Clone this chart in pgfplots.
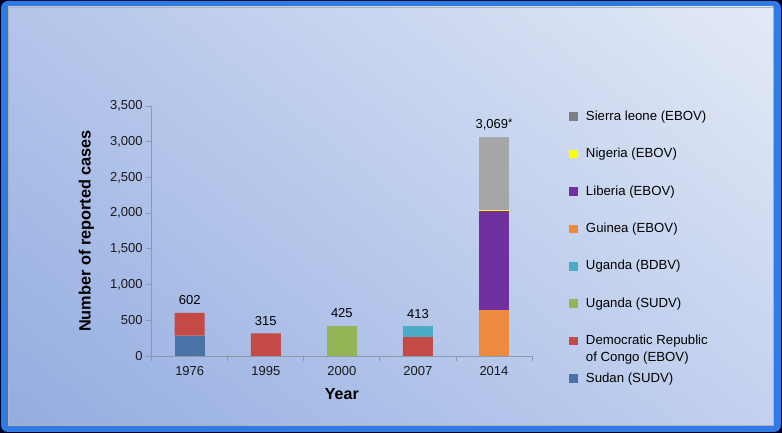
\documentclass[border=0pt]{standalone}
\usepackage{pgfplots}
\pgfplotsset{compat=1.18}
\usetikzlibrary{shadings}
\usepackage{fontspec}
\setmainfont{Liberation Sans}

% colours
\definecolor{frameblue}{HTML}{2F7AE3}
\definecolor{panelUL}{HTML}{B4C5EA}
\definecolor{panelUR}{HTML}{E3EAF6}
\definecolor{panelLL}{HTML}{93ACE0}
\definecolor{panelLR}{HTML}{C3D1EF}
\definecolor{axisgray}{HTML}{8E98AA}
\definecolor{sudan}{HTML}{4A72A6}
\definecolor{drc}{HTML}{C44A46}
\definecolor{ugsudv}{HTML}{93B555}
\definecolor{ugbdbv}{HTML}{4AACC6}
\definecolor{guinea}{HTML}{EE8A3E}
\definecolor{liberia}{HTML}{7030A0}
\definecolor{nigeria}{HTML}{FFFF00}
\definecolor{sleone}{HTML}{A6A6A6}
\definecolor{sleoneleg}{HTML}{808080}

\newcommand\ticksize{\fontsize{13}{15.6}\selectfont}
\newcommand\legsize{\fontsize{13.2}{17}\selectfont}

\begin{document}
\begin{tikzpicture}
% background: frame and shaded panel, in pixel units of the reference
\useasboundingbox (0,0) rectangle (782pt,433pt);
\fill[black!85!blue] (0,0) rectangle (782pt,433pt);
\fill[frameblue, rounded corners=7pt] (1pt,1pt) rectangle (781pt,432pt);
\shade[upper left=panelUL, upper right=panelUR, lower left=panelLL, lower right=panelLR]
  (8pt,8pt) rectangle (773pt,426pt);
\draw[gray!60, line width=0.8pt] (8pt,8pt) rectangle (773pt,426pt);

\begin{axis}[
  at={(151.7pt,77pt)}, anchor=south west,
  scale only axis, width=380.3pt, height=250pt,
  ybar stacked, bar width=30pt,
  xmin=-0.5, xmax=4.5, ymin=0, ymax=3500,
  axis lines*=left,
  axis line style={axisgray, line width=0.8pt},
  every tick/.style={axisgray, line width=0.8pt},
  tick align=outside,
  xtick={0,1,2,3,4},
  xticklabels={1976,1995,2000,2007,2014},
  minor xtick={-0.5,0.5,1.5,2.5,3.5,4.5},
  major x tick style={draw=none},
  minor tick length=5pt,
  ytick={0,500,...,3500},
  major tick length=5.5pt,
  scaled y ticks=false,
  /pgf/number format/.cd, 1000 sep={,}, assume math mode=true,
  /pgfplots/.cd,
  tick label style={font=\ticksize, text=black!90},
  xticklabel style={yshift=-1pt},
  xlabel={Year}, ylabel={Number of reported cases},
  xlabel style={font=\fontsize{16}{19}\selectfont\bfseries,
    at={(axis description cs:0.5,-0.174)}, anchor=base},
  ylabel style={font=\fontsize{16.3}{19}\selectfont\bfseries,
    at={(axis description cs:-0.172,0.5)}, anchor=center},
  clip=false,
  reverse legend,
  legend style={at={(1,1)}, anchor=north west, xshift=37pt, yshift=-4.5pt,
    draw=none, fill=none, inner sep=0pt,
    font=\legsize, row sep=24.9pt,
    nodes={inner sep=0pt, text height=9.5pt, text depth=3pt},
    /tikz/every odd column/.style={column sep=8.3pt}},
  legend cell align=left,
  legend image code/.code={\fill[#1, draw=none] (0pt,-4pt) rectangle (8.5pt,4.5pt);},
]
\addplot[fill=sudan, draw=none] coordinates {(0,284) (1,0) (2,0) (3,0) (4,0)};
\addplot[fill=drc, draw=none] coordinates {(0,318) (1,315) (2,0) (3,264) (4,0)};
\addplot[fill=ugsudv, draw=none] coordinates {(0,0) (1,0) (2,425) (3,0) (4,0)};
\addplot[fill=ugbdbv, draw=none] coordinates {(0,0) (1,0) (2,0) (3,149) (4,0)};
\addplot[fill=guinea, draw=none] coordinates {(0,0) (1,0) (2,0) (3,0) (4,648)};
\addplot[fill=liberia, draw=none] coordinates {(0,0) (1,0) (2,0) (3,0) (4,1378)};
\addplot[fill=nigeria, draw=none] coordinates {(0,0) (1,0) (2,0) (3,0) (4,17)};
\addplot[fill=sleone, draw=none,
  legend image code/.code={\fill[sleoneleg, draw=none] (0pt,-4pt) rectangle (8.5pt,4.5pt);}]
  coordinates {(0,0) (1,0) (2,0) (3,0) (4,1026)};
\legend{Sudan (SUDV),
  {\begin{tabular}[t]{@{}l@{}}Democratic Republic\\of Congo (EBOV)\end{tabular}},
  Uganda (SUDV), Uganda (BDBV), Guinea (EBOV), Liberia (EBOV),
  Nigeria (EBOV), Sierra leone (EBOV)}

% totals above the bars
\node[font=\ticksize, anchor=base, yshift=8pt] at (axis cs:0,602) {602};
\node[font=\ticksize, anchor=base, yshift=8pt] at (axis cs:1,315) {315};
\node[font=\ticksize, anchor=base, yshift=8pt] at (axis cs:2,425) {425};
\node[font=\ticksize, anchor=base, yshift=8pt] at (axis cs:3,413) {413};
\node[font=\ticksize, anchor=base, yshift=8pt] at (axis cs:4,3069)
  {3,069\raisebox{2.5pt}{\fontsize{11}{11}\selectfont *}};
\end{axis}
\end{tikzpicture}
\end{document}
